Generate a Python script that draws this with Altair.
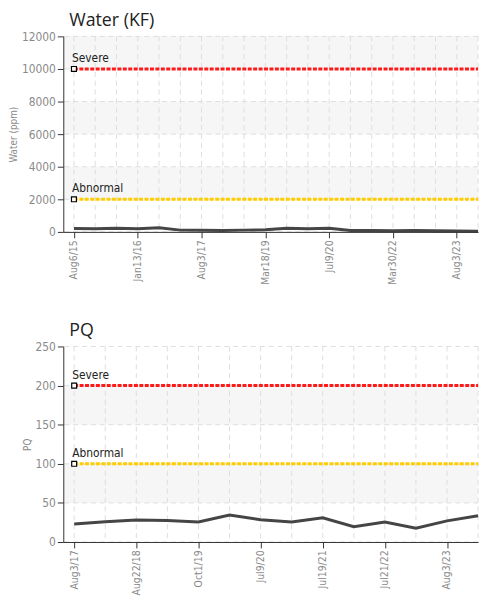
import altair as alt
import pandas as pd

# ---------------- data ----------------
water_dates = ["Aug6/15", "Oct2/15", "Nov20/15", "Jan13/16", "Apr5/16", "Nov9/16",
               "Aug3/17", "Feb12/18", "Aug22/18", "Mar18/19", "Oct1/19", "Jan20/20",
               "Jul9/20", "Jan15/21", "Jul19/21", "Mar30/22", "Jul21/22", "Feb9/23",
               "Aug3/23", "Feb14/24"]
water_vals = [210, 190, 230, 200, 260, 110, 100, 90, 110, 130, 220, 200,
              230, 90, 80, 70, 80, 70, 60, 45]
water_label_idx = [0, 3, 6, 9, 12, 15, 18]
water_y_ticks = [0, 2000, 4000, 6000, 8000, 10000, 12000]
water_band_lo = [10000, 6000, 2000]
water_band_hi = [12000, 8000, 4000]

pq_dates = ["Aug3/17", "Feb12/18", "Aug22/18", "Feb20/19", "Oct1/19", "Feb4/20",
            "Jul9/20", "Jan15/21", "Jul19/21", "Jan18/22", "Jul21/22", "Feb9/23",
            "Aug3/23", "Feb14/24"]
pq_vals = [23, 26, 28, 27.5, 25.5, 34.5, 28.5, 25.5, 31, 19.5, 25.5, 17.5, 27, 33.5]
pq_label_idx = [0, 2, 4, 6, 8, 10, 12]
pq_y_ticks = [0, 50, 100, 150, 200, 250]
pq_band_lo = [150, 50]
pq_band_hi = [200, 100]

threshold_names = ["Severe", "Abnormal"]
threshold_colors = ["#ff1a1a", "#ffcc00"]
water_thresholds = [10000, 2000]
pq_thresholds = [200, 100]

LABEL_FONT = "DejaVu Sans Condensed"
TITLE_FONT = "Open Sans"
W = 420
H = 198


def panel(title, ytitle, dates, vals, label_idx, yticks, band_lo, band_hi,
          thr_vals, xdomain):
    n = len(dates)
    df = pd.DataFrame({"i": list(range(n)), "date": dates, "v": vals})
    bands = pd.DataFrame({"lo": band_lo, "hi": band_hi})
    ygrid = pd.DataFrame({"y": yticks})
    thr = pd.DataFrame({
        "name": threshold_names,
        "value": thr_vals,
        "color": threshold_colors,
        "x0": [0] * len(thr_vals),
        "x1": [n - 1] * len(thr_vals),
    })

    label_js = "[" + ",".join("'" + d + "'" for d in dates) + "]"
    xscale = alt.Scale(domain=xdomain, nice=False, zero=False)
    yscale = alt.Scale(domain=[yticks[0], yticks[-1]], nice=False, zero=True)

    xaxis = alt.Axis(values=label_idx, labelExpr=label_js + "[datum.value]",
                     labelAngle=270, grid=False, title=None, labelOverlap=False,
                     labelFont=LABEL_FONT, labelFontSize=10.5, labelColor="#8a8a8a",
                     domainColor="#333333", tickColor="#333333", tickSize=6,
                     labelPadding=2, zindex=1)
    yaxis = alt.Axis(values=yticks, grid=False, format="d", labelOverlap=False,
                     title=ytitle, titleFont=LABEL_FONT, titleFontSize=10,
                     titleFontWeight="normal", titleColor="#8a8a8a", titlePadding=3,
                     labelFont=LABEL_FONT, labelFontSize=12, labelColor="#8a8a8a",
                     domainColor="#333333", tickColor="#333333", tickSize=6,
                     labelPadding=2, zindex=1)

    X = lambda f: alt.X(f, scale=xscale, axis=xaxis)
    Y = lambda f: alt.Y(f, scale=yscale, axis=yaxis)

    band_layer = alt.Chart(bands).mark_rect(color="#f6f6f6").encode(
        x=alt.value(0), x2=alt.value(W), y=Y("lo:Q"), y2="hi:Q")

    hgrid = alt.Chart(ygrid).mark_rule(color="#dddddd", strokeDash=[5, 4],
                                       strokeWidth=1).encode(y=Y("y:Q"))

    vgrid = alt.Chart(df).mark_rule(color="#dddddd", strokeDash=[5, 4],
                                    strokeWidth=1).encode(x=X("i:Q"))

    thr_line = alt.Chart(thr).mark_rule(strokeWidth=3, strokeDash=[4, 1.5]).encode(
        x=X("x0:Q"), x2="x1:Q", y=Y("value:Q"),
        color=alt.Color("color:N", scale=None))

    series = alt.Chart(df).mark_line(color="#454545", strokeWidth=3).encode(
        x=X("i:Q"), y=Y("v:Q"))

    marker = alt.Chart(thr).mark_point(shape="square", filled=True, fill="white",
                                       stroke="black", strokeWidth=1.2, size=25,
                                       opacity=1).encode(
        x=X("x0:Q"), y=Y("value:Q"))

    text = alt.Chart(thr).mark_text(align="left", baseline="bottom", dx=-2, dy=-4,
                                    font=LABEL_FONT, fontSize=12,
                                    color="#222222").encode(
        x=X("x0:Q"), y=Y("value:Q"), text="name:N")

    return alt.layer(band_layer, hgrid, vgrid, thr_line, series, marker,
                     text).properties(
        width=W, height=H,
        title=alt.TitleParams(title, anchor="start", frame="group", font=TITLE_FONT,
                              fontSize=18, fontWeight="normal", color="#222222",
                              offset=1, dx=6))


top = panel("Water (KF)", "Water (ppm)", water_dates, water_vals, water_label_idx,
            water_y_ticks, water_band_lo, water_band_hi, water_thresholds,
            [-0.5, 19])
bottom = panel("PQ", "PQ", pq_dates, pq_vals, pq_label_idx, pq_y_ticks,
               pq_band_lo, pq_band_hi, pq_thresholds, [-0.35, 13])

chart = alt.vconcat(top, bottom, spacing=37, padding=0).configure_view(stroke=None)

chart.save("out.html", embed_options={"renderer": "svg", "actions": False})
